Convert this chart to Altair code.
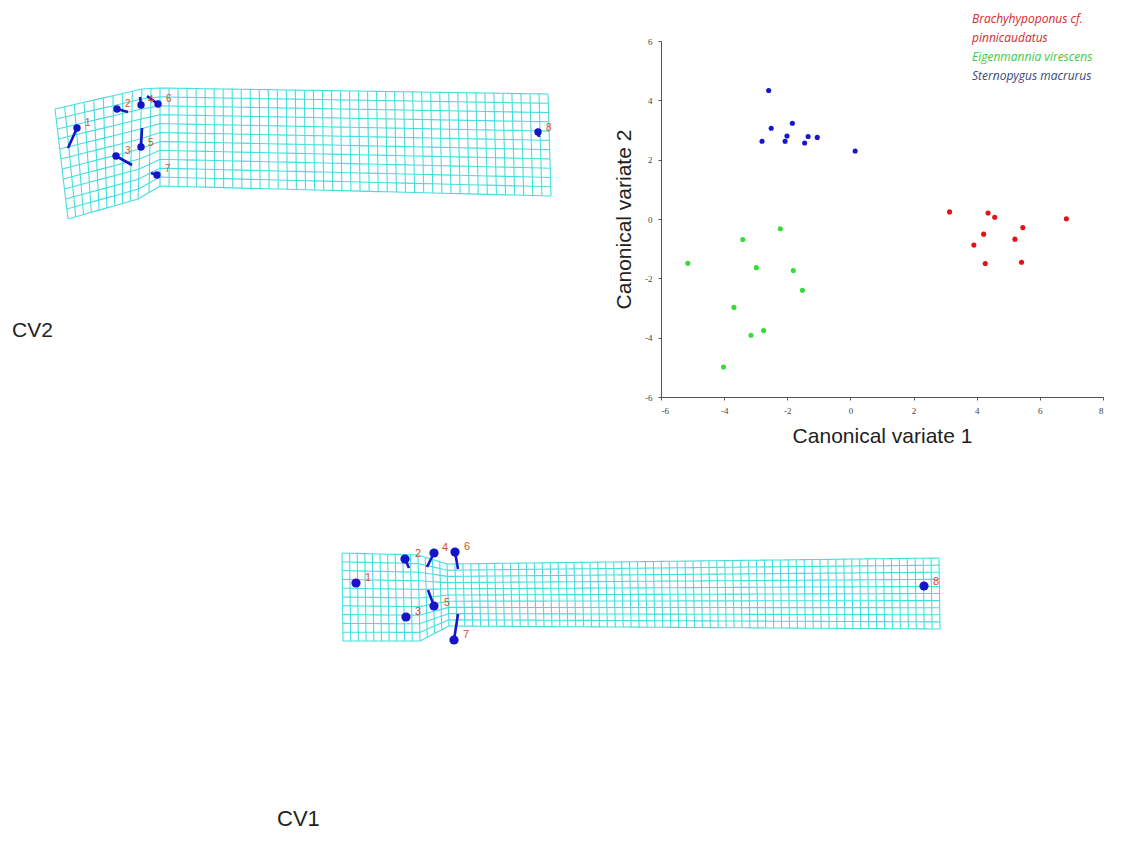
import altair as alt
import pandas as pd

# ---------------- scatter data (canonical variate scores) ----------------
species_names = ["Brachyhypoponus cf. pinnicaudatus", "Eigenmannia virescens", "Sternopygus macrurus"]

red_cv1 = [3.14, 4.36, 4.57, 6.84, 5.46, 4.22, 3.91, 5.21, 4.27, 5.42]
red_cv2 = [0.24, 0.20, 0.06, 0.01, -0.29, -0.51, -0.88, -0.68, -1.50, -1.46]

green_cv1 = [-5.15, -3.41, -2.22, -2.98, -1.81, -1.52, -3.69, -3.15, -2.75, -4.02]
green_cv2 = [-1.49, -0.69, -0.33, -1.64, -1.74, -2.40, -2.98, -3.92, -3.76, -4.99]

blue_cv1 = [-2.59, -2.51, -2.80, -2.07, -2.01, -1.84, -1.45, -1.34, -1.05, 0.15]
blue_cv2 = [4.33, 3.06, 2.62, 2.62, 2.80, 3.23, 2.56, 2.78, 2.75, 2.29]

x_ticks = [-6, -4, -2, 0, 2, 4, 6, 8]
y_ticks = [-6, -4, -2, 0, 2, 4, 6]

legend_lines = ["Brachyhypoponus cf.", "pinnicaudatus", "Eigenmannia virescens", "Sternopygus macrurus"]

# ---------------- deformation grids (sheet coordinates) ----------------
landmark_ids = ["1", "2", "3", "4", "5", "6", "7", "8"]

# CV2 grid (top left)
cv2_dot_x = [77, 117, 116, 141, 141, 158, 157, 538]
cv2_dot_y = [128, 109, 156, 105, 147, 104, 175, 132]
cv2_end_x = [68, 128, 132, 140, 142, 147, 151, 539]
cv2_end_y = [148, 112, 165, 97, 128, 96, 173, 137]
cv2_lab_x = [85, 125, 125, 148, 148, 166, 165, 546]
cv2_lab_y = [123, 104, 151, 100, 143, 99, 169, 128]
cv2_ctrl_cols = [0, 9, 11, 54]
cv2_top_x = [55, 142, 160, 548]
cv2_top_y = [109, 89, 88, 94]
cv2_bot_x = [68, 138, 160, 551]
cv2_bot_y = [219, 199, 186, 196]
cv2_rows = 11

# CV1 grid (bottom)
cv1_dot_x = [356, 405, 406, 434, 434, 455, 454, 924]
cv1_dot_y = [583, 559, 617, 553, 606, 552, 640, 586]
cv1_end_x = [356, 409, 406, 427, 428, 458, 458, 924]
cv1_end_y = [583, 568, 617, 567, 590, 569, 614, 586]
cv1_lab_x = [365, 415, 415, 442, 444, 464, 463, 933]
cv1_lab_y = [578, 554, 612, 548, 603, 547, 635, 582]
cv1_ctrl_cols = [0, 10, 14, 76]
cv1_top_x = [342, 418, 447, 939]
cv1_top_y = [553, 555, 564, 558]
cv1_bot_x = [343, 420, 449, 940]
cv1_bot_y = [641, 641, 626, 629]
cv1_rows = 10


def lattice(ctrl_cols, top_x, top_y, bot_x, bot_y, nrows):
    """Mesh lines of a warped grid: column edges between control columns."""
    ncols = ctrl_cols[-1]
    nodes = {}
    for c in range(ncols + 1):
        s = 0
        while s < len(ctrl_cols) - 2 and c > ctrl_cols[s + 1]:
            s += 1
        t = (c - ctrl_cols[s]) / (ctrl_cols[s + 1] - ctrl_cols[s])
        tx = top_x[s] + t * (top_x[s + 1] - top_x[s])
        ty = top_y[s] + t * (top_y[s + 1] - top_y[s])
        bx = bot_x[s] + t * (bot_x[s + 1] - bot_x[s])
        by = bot_y[s] + t * (bot_y[s + 1] - bot_y[s])
        for r in range(nrows + 1):
            v = r / nrows
            nodes[(c, r)] = (tx + v * (bx - tx), ty + v * (by - ty))
    rows = []
    for r in range(nrows + 1):
        for c in range(ncols + 1):
            x, y = nodes[(c, r)]
            rows.append({"lid": f"r{r}", "k": c, "x": x, "y": y})
    for c in range(ncols + 1):
        for r in range(nrows + 1):
            x, y = nodes[(c, r)]
            rows.append({"lid": f"c{c}", "k": r, "x": x, "y": y})
    return pd.DataFrame(rows)


# ---------------- layout ----------------
PLOT_W, PLOT_H = 442, 356
ORIGIN_X, ORIGIN_Y = 661, 41  # page position of scatter plot area

sx = alt.Scale(domain=[0, 1122], range=[-ORIGIN_X, 1122 - ORIGIN_X], zero=False, nice=False)
sy = alt.Scale(domain=[0, 842], range=[-ORIGIN_Y, 842 - ORIGIN_Y], zero=False, nice=False)

GRID_COLOR = "#45dede"
DOT_COLOR = "#1414c8"
LAB_COLOR = "#d4502c"

# scatter
scatter_df = pd.DataFrame({
    "cv1": red_cv1 + green_cv1 + blue_cv1,
    "cv2": red_cv2 + green_cv2 + blue_cv2,
    "species": [species_names[0]] * len(red_cv1) + [species_names[1]] * len(green_cv1) + [species_names[2]] * len(blue_cv1),
})

axis_common = dict(grid=False, tickSize=3, labelPadding=6, titlePadding=10, labelFontSize=9,
                   labelColor="#444", titleFontSize=21, titleFontWeight="normal",
                   titleColor="#222", titleFont="Liberation Sans", labelFont="Liberation Serif",
                   domainColor="#555", tickColor="#555", labelExpr="'' + datum.value")

scatter = alt.Chart(scatter_df).mark_circle(size=26, opacity=1).encode(
    x=alt.X("cv1:Q", scale=alt.Scale(domain=[-6, 8], nice=False, zero=False),
            axis=alt.Axis(values=x_ticks, title="Canonical variate 1", orient="bottom", **axis_common)),
    y=alt.Y("cv2:Q", scale=alt.Scale(domain=[-6, 6], nice=False, zero=False),
            axis=alt.Axis(values=y_ticks, title="Canonical variate 2", orient="left", **axis_common)),
    color=alt.Color("species:N", scale=alt.Scale(domain=species_names,
                                                 range=["#e01414", "#35dc35", "#1515d2"]), legend=None),
)

legend_colors = ["#d42a30", "#d42a30", "#3ccc3c", "#3a4678"]
legend_y = [-22, -3, 16, 35]
legend_layers = [
    alt.Chart(pd.DataFrame({"t": [txt]})).mark_text(
        align="left", baseline="middle", fontSize=12, fontStyle="italic",
        font="Open Sans", color=col
    ).encode(x=alt.value(311), y=alt.value(yy), text="t:N")
    for txt, col, yy in zip(legend_lines, legend_colors, legend_y)
]


def grid_layers(ctrl_cols, top_x, top_y, bot_x, bot_y, nrows,
                dot_x, dot_y, end_x, end_y, lab_x, lab_y, dot_size, lab_size):
    mesh = lattice(ctrl_cols, top_x, top_y, bot_x, bot_y, nrows)
    lm = pd.DataFrame({"id": landmark_ids, "x": dot_x, "y": dot_y, "x2": end_x, "y2": end_y,
                       "lx": lab_x, "ly": lab_y})
    lines = alt.Chart(mesh).mark_line(color=GRID_COLOR, strokeWidth=1.1).encode(
        x=alt.X("x:Q", scale=sx, axis=None),
        y=alt.Y("y:Q", scale=sy, axis=None),
        detail="lid:N", order="k:Q")
    vec = alt.Chart(lm).mark_rule(color=DOT_COLOR, strokeWidth=2.6).encode(
        x=alt.X("x:Q", scale=sx, axis=None), y=alt.Y("y:Q", scale=sy, axis=None),
        x2="x2:Q", y2="y2:Q")
    dots = alt.Chart(lm).mark_circle(color=DOT_COLOR, size=dot_size, opacity=1).encode(
        x=alt.X("x:Q", scale=sx, axis=None), y=alt.Y("y:Q", scale=sy, axis=None))
    labs = alt.Chart(lm).mark_text(color=LAB_COLOR, fontSize=lab_size, align="left",
                                   baseline="middle", font="Liberation Sans").encode(
        x=alt.X("lx:Q", scale=sx, axis=None), y=alt.Y("ly:Q", scale=sy, axis=None), text="id:N")
    return [lines, vec, dots, labs]


top_grid = grid_layers(cv2_ctrl_cols, cv2_top_x, cv2_top_y, cv2_bot_x, cv2_bot_y, cv2_rows,
                       cv2_dot_x, cv2_dot_y, cv2_end_x, cv2_end_y, cv2_lab_x, cv2_lab_y, 55, 10)
bottom_grid = grid_layers(cv1_ctrl_cols, cv1_top_x, cv1_top_y, cv1_bot_x, cv1_bot_y, cv1_rows,
                          cv1_dot_x, cv1_dot_y, cv1_end_x, cv1_end_y, cv1_lab_x, cv1_lab_y, 85, 11)

cv_labels = [
    alt.Chart(pd.DataFrame({"t": ["CV2"]})).mark_text(
        align="left", baseline="alphabetic", fontSize=21, font="Liberation Sans", color="#222"
    ).encode(x=alt.value(12 - ORIGIN_X), y=alt.value(337 - ORIGIN_Y), text="t:N"),
    alt.Chart(pd.DataFrame({"t": ["CV1"]})).mark_text(
        align="left", baseline="alphabetic", fontSize=22, font="Liberation Sans", color="#222"
    ).encode(x=alt.value(277 - ORIGIN_X), y=alt.value(826 - ORIGIN_Y), text="t:N"),
]

chart = alt.layer(scatter, *legend_layers, *top_grid, *bottom_grid, *cv_labels).resolve_scale(
    x="independent", y="independent"
).properties(
    width=PLOT_W, height=PLOT_H,
    autosize=alt.AutoSizeParams(type="none"),
    padding={"left": ORIGIN_X - 8, "top": ORIGIN_Y - 8, "right": 10, "bottom": 826 - (ORIGIN_Y - 8) - PLOT_H},
    background="white",
).configure_view(stroke=None)

chart.save("out.html", embed_options={"renderer": "svg", "actions": False})
